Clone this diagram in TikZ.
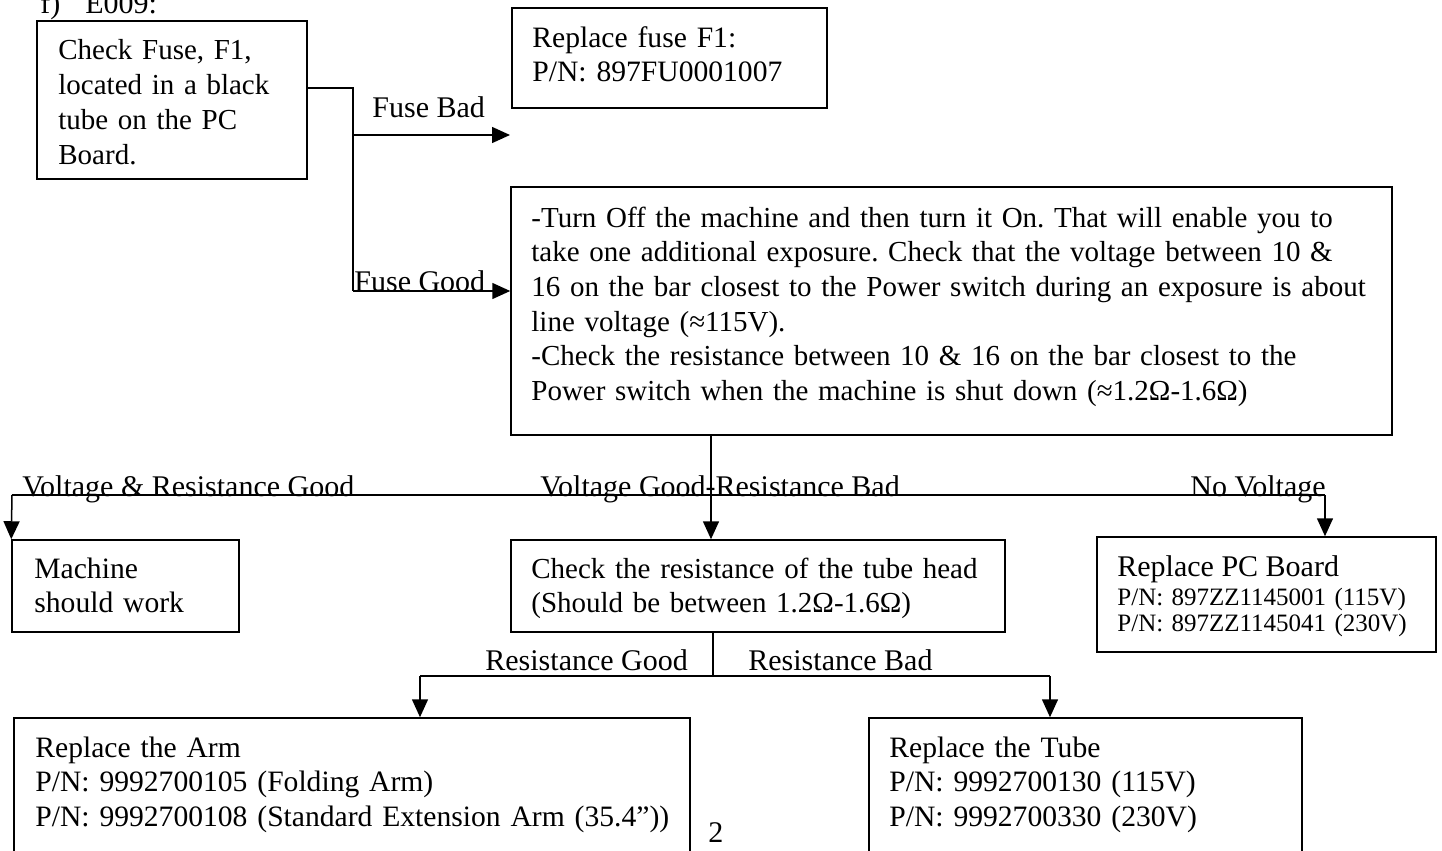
\documentclass[tikz,border=0pt]{standalone}
\usepackage{fontspec}
\setmainfont{Liberation Serif}
\usetikzlibrary{arrows.meta,fit}
\frenchspacing
\begin{document}
\begin{tikzpicture}[x=0.5pt,y=-0.5pt,
  box/.style={draw,line width=0.75pt,inner sep=0pt},
  conn/.style={line width=0.75pt},
  arr/.style={conn,-{Triangle[length=9pt,width=8pt]}},
  txt/.style={anchor=base west,inner sep=0pt,text width=470pt,align=left,font=\fontsize{14.8pt}{17.35pt}\selectfont},
  txtn/.style={txt,font=\fontsize{14.5pt}{17.35pt}\selectfont},
  lbl/.style={anchor=base west,inner sep=0pt,font=\fontsize{15pt}{17.35pt}\selectfont},
  smalltxt/.style={anchor=base west,inner sep=0pt,text width=200pt,align=left,font=\fontsize{12.5pt}{13pt}\selectfont}]
\useasboundingbox (0,0) rectangle (1442,851);
\clip (0,0) rectangle (1442,851);

% boxes
\node[box,fit={(37,21)(307,179)}] (b1) {};
\node[box,fit={(512,8)(827,108)}] (b2) {};
\node[box,fit={(511,187)(1392,435)}] (b3) {};
\node[box,fit={(12,540)(239,632)}] (b4) {};
\node[box,fit={(511,540)(1005,632)}] (b5) {};
\node[box,fit={(1097,537)(1436,652)}] (b6) {};
\node[box,fit={(14,718)(690,890)}] (b7) {};
\node[box,fit={(869,718)(1302,890)}] (b8) {};

% texts
\node[lbl] (title) at (40,13) {f)\hspace{12.5pt}E009:};
\node[txtn] (t1) at (58,60) {Check Fuse, F1,\\located in a black\\tube on the PC\\Board.};
\node[txt] (t2) at (532,47) {Replace fuse F1:\\P/N: 897FU0001007};
\node[txtn] (t3) at (531,227) {-Turn Off the machine and then turn it On. That will enable you to\\take one additional exposure. Check that the voltage between 10 \&\\16 on the bar closest to the Power switch during an exposure is about\\line voltage (≈115V).\\-Check the resistance between 10 \& 16 on the bar closest to the\\Power switch when the machine is shut down (≈1.2Ω-1.6Ω)};
\node[txt] (t4) at (34,578) {Machine\\should work};
\node[txtn] (t5) at (531,578) {Check the resistance of the tube head\\(Should be between 1.2Ω-1.6Ω)};
\node[lbl] (t6) at (1117,576) {Replace PC Board};
\node[smalltxt] (t6b) at (1117,605) {P/N: 897ZZ1145001 (115V)\\P/N: 897ZZ1145041 (230V)};
\node[txt] (t7) at (35,757) {Replace the Arm\\P/N: 9992700105 (Folding Arm)\\P/N: 9992700108 (Standard Extension Arm (35.4”))};
\node[txt] (t8) at (889,757) {Replace the Tube\\P/N: 9992700130 (115V)\\P/N: 9992700330 (230V)};
\node[lbl] (pg) at (708,842) {2};

% connectors top
\coordinate (jt) at (353,88);
\coordinate (jb) at (353,135);
\coordinate (jg) at (353,291);
\coordinate (fb) at (510,135);
\draw[conn] (b1.east |- jt) -- (jt) -- (jg);
\draw[arr] (jb) -- (fb);
\draw[arr] (jg) -- (b3.west |- jg);
\node[lbl] (lfb) at (372,117) {Fuse Bad};
\node[lbl] (lfg) at (354,291) {Fuse Good};

% middle split
\coordinate (k) at (711,495);
\coordinate (kl) at (12,495);
\coordinate (kr) at (1325,495);
\draw[conn] (kl) -- (kr);
\draw[arr] (b3.south -| k) -- (b5.north -| k);
\draw[arr] (kl) -- (b4.north west);
\draw[arr] (kr) -- (b6.north -| kr);
\node[lbl] (lvr) at (22,496) {Voltage \& Resistance Good};
\node[lbl] (lvg) at (540,496) {Voltage Good-Resistance Bad};
\node[lbl] (lnv) at (1190,496) {No Voltage};

% bottom split
\coordinate (m) at (713,676);
\coordinate (ml) at (420,676);
\coordinate (mr) at (1050,676);
\draw[conn] (b5.south -| m) -- (m);
\draw[conn] (ml) -- (mr);
\draw[arr] (ml) -- (b7.north -| ml);
\draw[arr] (mr) -- (b8.north -| mr);
\node[lbl] (lrg) at (485,670) {Resistance Good};
\node[lbl] (lrb) at (748,670) {Resistance Bad};
\end{tikzpicture}
\end{document}
